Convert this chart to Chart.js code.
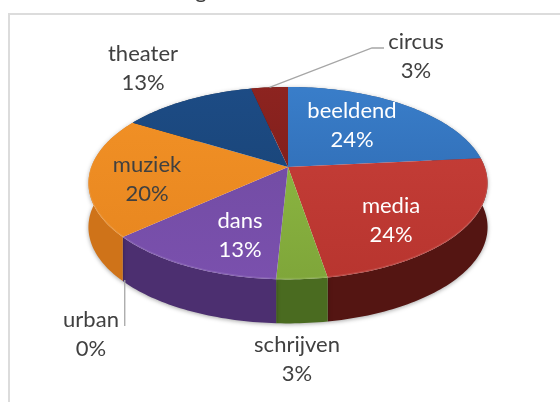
<!DOCTYPE html>
<html><head><meta charset="utf-8">
<style>html,body{margin:0;padding:0;background:#fff}canvas{display:block;filter:blur(0.35px)}</style>
<script src="https://cdn.jsdelivr.net/npm/chart.js@4/dist/chart.umd.min.js"></script>
</head><body>
<canvas id="c" width="560" height="402"></canvas>
<script>
const categories = ['beeldend','media','schrijven','dans','urban','muziek','theater','circus'];
const shares = [23.5,23.8,3.49,12.6,0,20.2,12.9,3.49];
const percentLabels = ['24%','24%','3%','13%','0%','20%','13%','3%'];
const titleFragment = 'g';
const topColors = [['#3a7fcb','#2a62a8'],['#c9403a','#b8352f'],['#93bf45','#7fa63a'],['#6e4a9f','#7a50ad'],['#777','#777'],['#f39226','#e6851f'],['#1d4c86','#17406f'],['#8e2420','#741a18']];
const sideColors = ['#1f4a7c','#541512','#4a6b20','#4c2f70','#555','#cf7319','#133056','#541512'];
const labelCenters = [[352,125],[391,220],[297,359],[240,235],[91,334],[147,179],[143,68],[416,56]];
const labelColors = ['#fff','#fff','#404040','#fff','#404040','#404040','#404040','#404040'];
const DEPTH=44, SX=1.178, SY=0.56, K=0.168;

function proj(el,ang){
  const u=Math.cos(ang), v=Math.sin(ang), w=1-K*v, R=el.outerRadius;
  return [el.x+R*SX*u/w, el.y+R*SY*v/w];
}
function samples(el){
  const pts=[], n=Math.max(2,Math.ceil((el.endAngle-el.startAngle)/0.02));
  for(let i=0;i<=n;i++) pts.push(proj(el,el.startAngle+(el.endAngle-el.startAngle)*i/n));
  return pts;
}
const pie3d={
  id:'pie3d',
  beforeDatasetDraw(chart,args){
    const ctx=chart.ctx, arcs=args.meta.data;
    ctx.save();
    ctx.strokeStyle='#dcdcdc';ctx.lineWidth=2;
    ctx.beginPath();ctx.moveTo(9,402);ctx.lineTo(9,14);ctx.lineTo(560,14);ctx.stroke();
    ctx.restore();
    arcs.forEach((el,i)=>{
      if(el.endAngle-el.startAngle<1e-4) return;
      const p=samples(el);
      ctx.save();
      ctx.shadowColor='rgba(0,0,0,0.35)';ctx.shadowBlur=4;ctx.shadowOffsetY=1;
      ctx.fillStyle=sideColors[i];
      ctx.beginPath();
      p.forEach((q,j)=>j?ctx.lineTo(q[0],q[1]):ctx.moveTo(q[0],q[1]));
      for(let j=p.length-1;j>=0;j--) ctx.lineTo(p[j][0],p[j][1]+DEPTH);
      ctx.closePath();ctx.fill();
      ctx.restore();
    });
    arcs.forEach((el,i)=>{
      if(el.endAngle-el.startAngle<1e-4) return;
      const p=samples(el);
      const g=ctx.createLinearGradient(0,el.y-90,0,el.y+112);
      g.addColorStop(0,topColors[i][0]);g.addColorStop(1,topColors[i][1]);
      ctx.fillStyle=g;
      ctx.beginPath();ctx.moveTo(el.x,el.y);
      p.forEach(q=>ctx.lineTo(q[0],q[1]));
      ctx.closePath();ctx.fill();
      ctx.strokeStyle='rgba(255,255,255,0.10)';ctx.lineWidth=1.5;
      ctx.beginPath();p.forEach((q,j)=>j?ctx.lineTo(q[0],q[1]-0.8):ctx.moveTo(q[0],q[1]-0.8));ctx.stroke();
    });
    return false;
  },
  afterDraw(chart){
    const ctx=chart.ctx, arcs=chart.getDatasetMeta(0).data;
    ctx.save();
    ctx.strokeStyle='#a6a6a6';ctx.lineWidth=1.3;
    const c=proj(arcs[7],(arcs[7].startAngle+arcs[7].endAngle)/2);
    ctx.beginPath();ctx.moveTo(c[0],c[1]);ctx.lineTo(372,48);ctx.lineTo(384,48);ctx.stroke();
    const u=proj(arcs[4],arcs[4].startAngle);
    ctx.beginPath();ctx.moveTo(u[0]+2,u[1]+DEPTH-1);ctx.lineTo(u[0]+2,326);ctx.stroke();
    ctx.font='22px Lato, "Open Sans", sans-serif';
    ctx.textAlign='center';ctx.textBaseline='middle';
    categories.forEach((name,i)=>{
      const [x,y]=labelCenters[i];
      ctx.fillStyle=labelColors[i];
      ctx.fillText(name,x,y-14.5);
      ctx.fillText(percentLabels[i],x,y+14.5);
    });
    ctx.fillStyle='#404040';ctx.textBaseline='alphabetic';
    ctx.fillText(titleFragment,201,-2);
    ctx.restore();
  }
};
new Chart(document.getElementById('c'),{
  type:'pie',
  data:{labels:categories,datasets:[{data:shares,backgroundColor:topColors.map(c=>c[0]),borderWidth:0}]},
  options:{responsive:false,animation:false,rotation:0,
    layout:{padding:{left:16,right:0,top:0,bottom:68}},
    plugins:{legend:{display:false},tooltip:{enabled:false}}},
  plugins:[pie3d]
});
</script>
</body></html>
